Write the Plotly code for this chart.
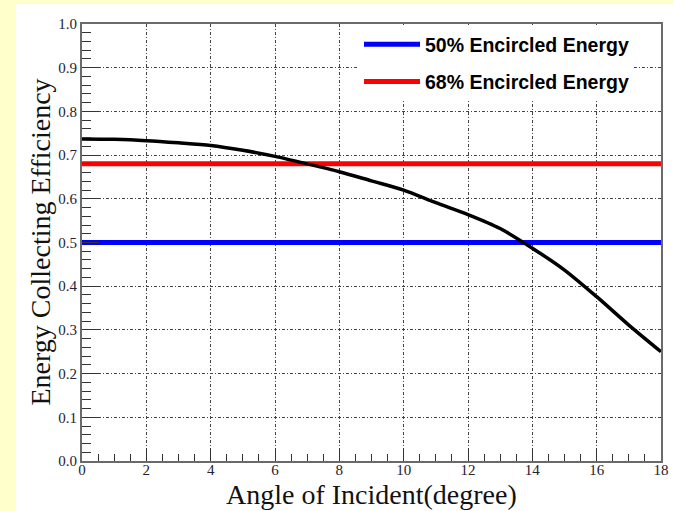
import plotly.graph_objects as go

# Data
angle_deg = [0, 1, 2, 3, 4, 5, 6, 7, 8, 9, 10, 11, 12, 13, 14, 15, 16, 17, 18]
efficiency = [0.737, 0.736, 0.733, 0.728, 0.722, 0.711, 0.697, 0.680, 0.662,
              0.641, 0.620, 0.591, 0.564, 0.532, 0.487, 0.437, 0.376, 0.311, 0.250]
ee50_x = [0, 18]
ee50_y = [0.50, 0.50]
ee68_x = [0, 18]
ee68_y = [0.68, 0.68]
series_names = ["50% Encircled Energy", "68% Encircled Energy"]
x_title = "Angle of Incident(degree)"
y_title = "Energy Collecting Efficiency"

W, H = 673, 511
ML, MR, MT, MB = 82, 12, 24, 50
pw = W - ML - MR
ph = H - MT - MB

def px2paper_x(px):
    return (px - ML) / pw

def px2paper_y(py):
    return (H - MB - py) / ph

fig = go.Figure()
fig.add_trace(go.Scatter(x=ee50_x, y=ee50_y, mode="lines", name="<b>" + series_names[0] + "</b>",
                         line=dict(color="#0000ff", width=5), legendgroup="a"))
fig.add_trace(go.Scatter(x=ee68_x, y=ee68_y, mode="lines", name="<b>" + series_names[1] + "</b>",
                         line=dict(color="#ff0000", width=5), legendgroup="b"))
fig.add_trace(go.Scatter(x=angle_deg, y=efficiency, mode="lines", showlegend=False,
                         line=dict(color="#000000", width=3.5, shape="spline", smoothing=0.8)))

grid = dict(showgrid=True, gridcolor="#444444", gridwidth=1, griddash="3px,2px,1px,2px")
tickfont = dict(family="Liberation Serif", size=15, color="#222233")

fig.update_xaxes(range=[0, 18], dtick=2, tick0=0, ticks="inside", ticklen=13,
                 tickcolor="#333333", tickwidth=1.3, ticklabelstandoff=-6,
                 minor=dict(dtick=0.5, ticks="inside", ticklen=7, tickcolor="#333333", tickwidth=1.3, showgrid=False),
                 showline=True, linecolor="#6a6a6a", linewidth=2, mirror=True,
                 zeroline=False, tickfont=tickfont, automargin=False, **grid)
fig.update_yaxes(range=[0, 1], dtick=0.1, tick0=0, tickformat=".1f", ticks="inside", ticklen=17,
                 tickcolor="#333333", tickwidth=1.3,
                 minor=dict(dtick=0.02, ticks="inside", ticklen=9, tickcolor="#333333", tickwidth=1.3, showgrid=False),
                 showline=True, linecolor="#6a6a6a", linewidth=2, mirror=True,
                 zeroline=False, tickfont=tickfont, automargin=False, **grid)

fig.update_layout(
    width=W, height=H,
    margin=dict(l=ML, r=MR, t=MT, b=MB),
    paper_bgcolor="#FFFFCC",
    plot_bgcolor="#ffffff",
    showlegend=True,
    legend=dict(x=px2paper_x(359), y=px2paper_y(25), xanchor="left", yanchor="top",
                bgcolor="#ffffff", borderwidth=0, traceorder="grouped", tracegroupgap=9,
                font=dict(family="Liberation Sans", size=19.5, color="#000000"),
                itemwidth=56, entrywidth=230),
    shapes=[dict(type="rect", xref="paper", yref="paper", layer="below",
                 x0=px2paper_x(16), x1=px2paper_x(W + 5), y0=px2paper_y(H + 5), y1=px2paper_y(4),
                 fillcolor="#ffffff", line=dict(width=0))],
    annotations=[
        dict(text=y_title, xref="paper", yref="paper", x=px2paper_x(40), y=0.5,
             xanchor="center", yanchor="middle", textangle=-90, showarrow=False,
             font=dict(family="Liberation Serif", size=28, color="#111111")),
        dict(text=x_title, xref="paper", yref="paper", x=0.5, y=px2paper_y(494),
             xanchor="center", yanchor="middle", showarrow=False,
             font=dict(family="Liberation Serif", size=28, color="#111111")),
    ],
)

fig.write_html("out.html", config={"displayModeBar": False},
               post_script="document.body.style.margin='0px';document.body.style.padding='0px';")
